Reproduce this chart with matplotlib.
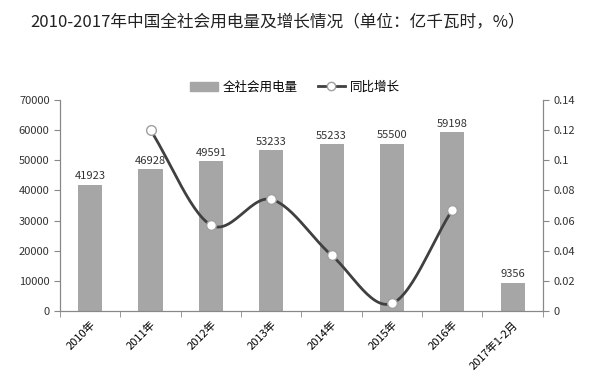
import numpy as np
import matplotlib
matplotlib.use("Agg")
import matplotlib.pyplot as plt
from matplotlib.lines import Line2D
from matplotlib.patches import Patch

plt.rcParams["font.family"] = ["Noto Sans CJK SC", "DejaVu Sans"]

categories = ["2010年", "2011年", "2012年", "2013年", "2014年", "2015年", "2016年", "2017年1-2月"]
usage = [41923, 46928, 49591, 53233, 55233, 55500, 59198, 9356]
growth_years = [1, 2, 3, 4, 5, 6]
growth = [0.12, 0.057, 0.074, 0.037, 0.005, 0.067]


def catmull_rom(xs, ys, n=30):
    # Excel-like smoothed line through the points
    xs = np.asarray(xs, float)
    ys = np.asarray(ys, float)
    px = np.concatenate([[2 * xs[0] - xs[1]], xs, [2 * xs[-1] - xs[-2]]])
    py = np.concatenate([[2 * ys[0] - ys[1]], ys, [2 * ys[-1] - ys[-2]]])
    ox, oy = [], []
    t = np.linspace(0, 1, n)
    for i in range(1, len(px) - 2):
        for p, out in ((px, ox), (py, oy)):
            p0, p1, p2, p3 = p[i - 1], p[i], p[i + 1], p[i + 2]
            out.extend(0.5 * ((2 * p1) + (-p0 + p2) * t
                              + (2 * p0 - 5 * p1 + 4 * p2 - p3) * t ** 2
                              + (-p0 + 3 * p1 - 3 * p2 + p3) * t ** 3))
    return np.array(ox), np.array(oy)


fig = plt.figure(figsize=(5.96, 3.88), dpi=100)
ax = fig.add_axes([0.1007, 0.1985, 0.81, 0.544])
ax2 = ax.twinx()

x = np.arange(len(categories))
ax.bar(x, usage, width=0.4, color="#a6a6a6", zorder=2)
for xi, v in zip(x, usage):
    ax.text(xi, v + 1200, str(v), ha="center", va="bottom", fontsize=8, color="#333333")

ax.set_xlim(-0.5, len(categories) - 0.5)
ax.set_ylim(0, 70000)
ax.set_yticks(range(0, 70001, 10000))
ax2.set_ylim(0, 0.14)
ax2.set_yticks([0, 0.02, 0.04, 0.06, 0.08, 0.1, 0.12, 0.14])
ax2.set_yticklabels(["0", "0.02", "0.04", "0.06", "0.08", "0.1", "0.12", "0.14"])

sx, sy = catmull_rom(growth_years, growth)
ax2.plot(sx, sy, color="#404040", lw=2, zorder=3)
ax2.plot(growth_years, growth, ls="none", marker="o", ms=7, mfc="white",
         mec="#a0a0a0", mew=1, zorder=4)

ax.set_xticks(x)
ax.set_xticklabels(categories, rotation=45, ha="right", va="top", fontsize=8,
                   rotation_mode="anchor")
ax.set_xticks(np.arange(-0.5, len(categories), 1), minor=True)
ax.tick_params(axis="x", which="major", length=0, pad=6)
ax.tick_params(axis="x", which="minor", length=4, color="#888888")
ax.tick_params(axis="y", length=4, color="#888888", labelsize=8, labelcolor="#333333")
ax2.tick_params(axis="y", length=4, color="#888888", labelsize=8, labelcolor="#333333")

for a in (ax, ax2):
    a.spines["top"].set_visible(False)
    for s in ("left", "right", "bottom"):
        a.spines[s].set_color("#888888")

handles = [Patch(color="#a6a6a6"),
           Line2D([0], [0], color="#404040", lw=2, marker="o", ms=6, mfc="white", mec="#a0a0a0")]
fig.legend(handles, ["全社会用电量", "同比增长"], loc="center", bbox_to_anchor=(0.495, 0.775),
           ncol=2, frameon=False, fontsize=9, handlelength=2.2, handletextpad=0.4,
           columnspacing=1.6)

fig.text(0.465, 0.94, "2010-2017年中国全社会用电量及增长情况（单位：亿千瓦时，%）",
         ha="center", va="center", fontsize=12, color="#222222")

fig.savefig("out.png", dpi=100)
